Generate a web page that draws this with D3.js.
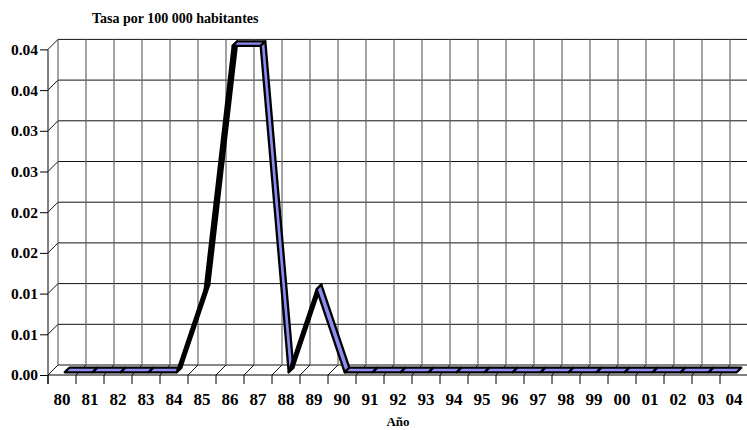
<!DOCTYPE html>
<html><head><meta charset="utf-8">
<script src="https://cdn.jsdelivr.net/npm/d3@7"></script>
<style>
body{margin:0;background:#fff}
svg{display:block}
</style>
</head><body>
<svg id="c" width="747" height="430"></svg>
<script>
// ---- data ----
const years = ["80","81","82","83","84","85","86","87","88","89","90","91","92","93","94","95","96","97","98","99","00","01","02","03","04"];
const rates = [0,0,0,0,0,0.0102,0.0401,0.0401,0,0.0102,0,0,0,0,0,0,0,0,0,0,0,0,0,0,0];
const yTickValues = [0,0.005,0.01,0.015,0.02,0.025,0.03,0.035,0.04];
const yTickLabels = ["0.00","0.01","0.01","0.02","0.02","0.03","0.03","0.04","0.04"];
const chartTitle = "Tasa por 100 000 habitantes";
const xTitle = "Año";

const FONT = "Liberation Serif";

// ---- layout ----
const svg = d3.select("#c");
const X0 = 48, STEP = 28;
const DX = 10, DY = -10;          // depth offset of back wall
const x = d3.scaleBand().domain(years).range([X0, X0 + STEP * years.length]).paddingInner(0).paddingOuter(0);
const y = d3.scaleLinear().domain([0, 0.04]).range([375, 49.4]);
const yMax = 0.04;
const bounds = d3.range(years.length + 1).map(k => X0 + STEP * k);

const g = svg.append("g");

// back wall horizontal gridlines
g.selectAll("line.hg").data(yTickValues).join("line")
  .attr("x1", X0 + DX).attr("x2", X0 + DX + STEP * years.length)
  .attr("y1", d => y(d) + DY).attr("y2", d => y(d) + DY)
  .attr("stroke", "#111").attr("stroke-width", 1);

// back wall vertical gridlines
g.selectAll("line.vg").data(bounds).join("line")
  .attr("x1", d => d + DX).attr("x2", d => d + DX)
  .attr("y1", y(yMax) + DY).attr("y2", y(0) + DY)
  .attr("stroke", "#666").attr("stroke-width", 1.2);

// floor diagonals
g.selectAll("line.fd").data(bounds).join("line")
  .attr("x1", d => d).attr("y1", y(0))
  .attr("x2", d => d + DX).attr("y2", y(0) + DY)
  .attr("stroke", "#111").attr("stroke-width", 1);

// side wall diagonals
g.selectAll("line.sd").data(yTickValues).join("line")
  .attr("x1", X0).attr("y1", d => y(d))
  .attr("x2", X0 + DX).attr("y2", d => y(d) + DY)
  .attr("stroke", "#111").attr("stroke-width", 1);

// y axis
const yAxis = d3.axisLeft(y).tickValues(yTickValues)
  .tickFormat((d, i) => yTickLabels[i]).tickSize(8).tickPadding(2);
const ya = svg.append("g").attr("transform", `translate(${X0},0)`).call(yAxis);
ya.select(".domain").remove();
ya.selectAll(".tick line").attr("stroke", "#000");
ya.selectAll(".tick text").attr("fill", "#000")
  .attr("font-family", FONT).attr("font-weight", "bold").attr("font-size", 15.5);
svg.append("line").attr("x1", X0).attr("x2", X0).attr("y1", y(yMax)).attr("y2", y(0) + 9)
  .attr("stroke", "#000");

// x axis line + boundary ticks
svg.append("line").attr("x1", X0).attr("x2", X0 + STEP * years.length)
  .attr("y1", y(0)).attr("y2", y(0)).attr("stroke", "#000").attr("stroke-width", 1.2);
svg.selectAll("line.xt").data(bounds).join("line")
  .attr("x1", d => d).attr("x2", d => d).attr("y1", y(0)).attr("y2", y(0) + 9)
  .attr("stroke", "#000");

// x labels via axis
const xAxis = d3.axisBottom(x).tickSize(0).tickPadding(18);
const xa = svg.append("g").attr("transform", `translate(0,${y(0)})`).call(xAxis);
xa.select(".domain").remove();
xa.selectAll(".tick text").attr("fill", "#000")
  .attr("font-family", FONT).attr("font-weight", "bold").attr("font-size", 17);

// ribbon
const f1 = 0.27, f2 = 0.73;
const P = (i, f) => [x(years[i]) + x.bandwidth() / 2 + DX * f, y(rates[i]) + DY * f];
const segs = d3.range(rates.length - 1);
const facing = i => {
  const a = P(i, f1), b = P(i + 1, f1);
  const vx = b[0] - a[0], vy = b[1] - a[1];
  const dx = DX * (f2 - f1), dy = DY * (f2 - f1);
  return vx * dy - vy * dx; // >0: hidden top face (rising)
};
svg.selectAll("polygon.rib").data(segs).join("polygon")
  .attr("points", i => [P(i, f1), P(i + 1, f1), P(i + 1, f2), P(i, f2)].map(p => p.join(",")).join(" "))
  .attr("fill", i => facing(i) > 0 ? "#000" : "#8c8cf2")
  .attr("stroke", "#000").attr("stroke-width", 2.3)
  .attr("stroke-linejoin", "round");

// titles
svg.append("text").attr("x", 92).attr("y", 22.5).attr("font-size", 14)
  .attr("font-family", FONT).attr("font-weight", "bold").text(chartTitle);
svg.append("text").attr("x", 398).attr("y", 426).attr("text-anchor", "middle").attr("font-size", 13)
  .attr("font-family", FONT).attr("font-weight", "bold").text(xTitle);
</script>
</body></html>
